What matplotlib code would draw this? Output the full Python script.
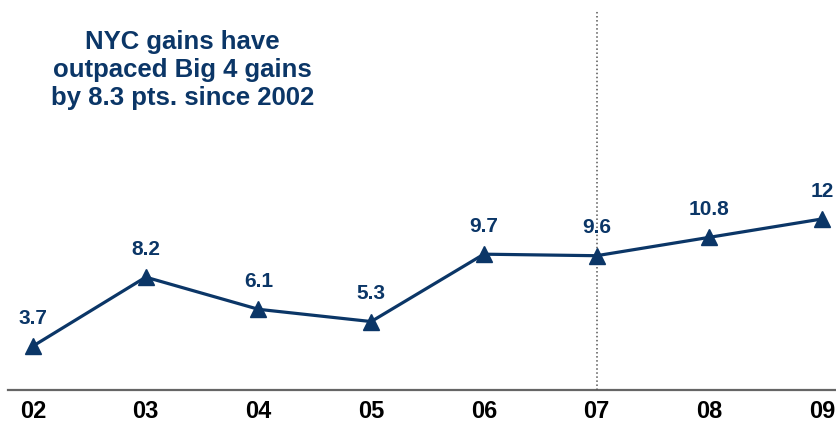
import matplotlib.pyplot as plt

# NYC gain over the Big 4, by year
years = ["02", "03", "04", "05", "06", "07", "08", "09"]
gains = [3.7, 8.2, 6.1, 5.3, 9.7, 9.6, 10.8, 12]
labels = ["3.7", "8.2", "6.1", "5.3", "9.7", "9.6", "10.8", "12"]

navy = "#0b3667"
plt.rcParams["font.family"] = ["Liberation Sans", "DejaVu Sans"]

fig = plt.figure(figsize=(8.37, 4.26), dpi=100)
ax = fig.add_axes([0, 36 / 426, 1, 390 / 426])

x = list(range(len(years)))
ax.plot(x, gains, color=navy, linewidth=2.3, marker="^", markersize=11,
        clip_on=False, zorder=3)

for xi, yi, lab in zip(x, gains, labels):
    ax.annotate(lab, (xi, yi), xytext=(0, 16), textcoords="offset points",
                ha="center", va="baseline", fontsize=15, fontweight="bold",
                color=navy, annotation_clip=False)

ax.set_xlim(-0.293, 7.133)
ax.set_ylim(0.83, 26.3)

# baseline and the 2007 marker line
ax.axhline(0.83, xmin=8 / 837, xmax=1, color="#666666", linewidth=1.6, clip_on=False)
ax.axvline(5, ymin=0, ymax=0.974, color="#555555", linewidth=1.1, linestyle=":")

for s in ax.spines.values():
    s.set_visible(False)
ax.set_yticks([])
ax.set_xticks(x)
ax.set_xticklabels(years, fontsize=17, fontweight="bold", color="black")
ax.tick_params(axis="x", length=0, pad=7)

fig.text(0.218, 1 - 30 / 426,
         "NYC gains have\noutpaced Big 4 gains\nby 8.3 pts. since 2002",
         ha="center", va="top", fontsize=18.5, fontweight="bold", color=navy,
         linespacing=1.2)

fig.savefig("out.png", dpi=100)
